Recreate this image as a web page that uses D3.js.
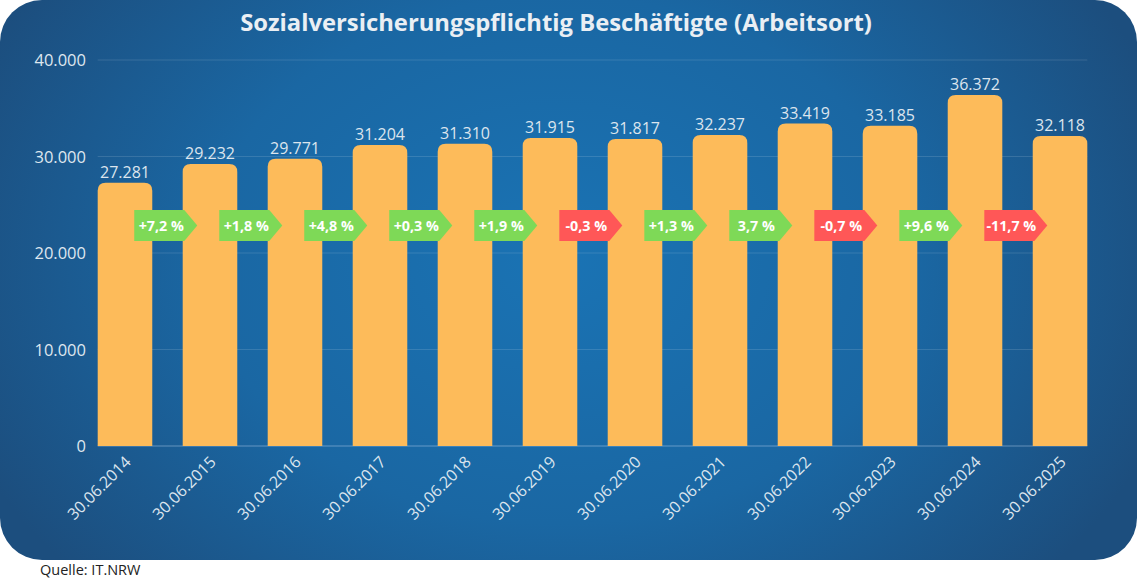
<!DOCTYPE html>
<html>
<head>
<meta charset="utf-8">
<script src="https://cdn.jsdelivr.net/npm/d3@7"></script>
<style>
  body { margin: 0; background: #fff; }
  svg { display: block; }
</style>
</head>
<body>
<script>
const dates = ['30.06.2014', '30.06.2015', '30.06.2016', '30.06.2017', '30.06.2018', '30.06.2019',
    '30.06.2020', '30.06.2021', '30.06.2022', '30.06.2023', '30.06.2024', '30.06.2025']
const employees = [27281, 29232, 29771, 31204, 31310, 31915, 31817, 32237, 33419, 33185, 36372, 32118]
const changes = ['+7,2 %', '+1,8 %', '+4,8 %', '+0,3 %', '+1,9 %', '-0,3 %', '+1,3 %', '3,7 %', '-0,7 %', '+9,6 %', '-11,7 %']
const yTicks = [0, 10000, 20000, 30000, 40000]

const layout = { width: 1139, height: 582, panelW: 1137, panelH: 560 }
const plot = { left: 97.7, right: 1087.3, top: 60, bottom: 446 }

const fmt = d3.formatLocale({ decimal: ',', thousands: '.', grouping: [3], currency: ['', ''] }).format(',')

const svg = d3.select('body')
    .append('svg')
    .attr('width', layout.width)
    .attr('height', layout.height)

const defs = svg.append('defs')
const grad = defs.append('radialGradient')
    .attr('id', 'bg')
    .attr('gradientUnits', 'userSpaceOnUse')
    .attr('cx', 560).attr('cy', 260).attr('r', 640)
    .attr('gradientTransform', 'translate(560,260) scale(1,0.75) translate(-560,-260)')
grad.append('stop').attr('offset', '0%').attr('stop-color', '#1a73b4')
grad.append('stop').attr('offset', '55%').attr('stop-color', '#1a67a3')
grad.append('stop').attr('offset', '100%').attr('stop-color', '#1c4e7e')

svg.append('rect')
    .attr('width', layout.panelW)
    .attr('height', layout.panelH)
    .attr('rx', 42)
    .attr('fill', 'url(#bg)')

svg.append('text')
    .attr('x', 556)
    .attr('y', 31)
    .attr('text-anchor', 'middle')
    .style('font-family', 'Open Sans')
    .style('font-weight', 700)
    .style('font-size', '23.8px')
    .style('fill', '#eaeff4')
    .text('Sozialversicherungspflichtig Beschäftigte (Arbeitsort)')

const x = d3.scaleBand().domain(dates).range([plot.left, plot.right]).paddingInner(0.358).paddingOuter(0)
const y = d3.scaleLinear().domain([0, 40000]).range([plot.bottom, plot.top])

// grid
svg.append('g')
    .selectAll('line')
    .data(yTicks)
    .enter()
    .append('line')
    .attr('x1', plot.left)
    .attr('x2', plot.right)
    .attr('y1', d => y(d))
    .attr('y2', d => y(d))
    .attr('stroke', d => d === 0 ? 'rgba(190,215,240,0.45)' : 'rgba(255,255,255,0.13)')
    .attr('stroke-width', 1)

// y labels
svg.append('g')
    .selectAll('text')
    .data(yTicks)
    .enter()
    .append('text')
    .attr('x', 86)
    .attr('y', d => y(d) + 6)
    .attr('text-anchor', 'end')
    .style('font-family', 'Open Sans')
    .style('font-size', '16.5px')
    .style('fill', '#dfe7ef')
    .text(d => fmt(d))

// bars with rounded tops
const r = 8
const bw = x.bandwidth()
svg.append('g')
    .selectAll('path')
    .data(employees)
    .enter()
    .append('path')
    .attr('d', (d, i) => {
        const x0 = x(dates[i]), x1 = x0 + bw, y0 = y(d), yb = y(0)
        return `M${x0},${yb}V${y0 + r}Q${x0},${y0} ${x0 + r},${y0}H${x1 - r}Q${x1},${y0} ${x1},${y0 + r}V${yb}Z`
    })
    .attr('fill', '#fdbb5a')

// value labels
svg.append('g')
    .selectAll('text')
    .data(employees)
    .enter()
    .append('text')
    .attr('x', (d, i) => x(dates[i]) + bw / 2)
    .attr('y', d => y(d) - 5)
    .attr('text-anchor', 'middle')
    .style('font-family', 'Open Sans')
    .style('font-size', '16px')
    .style('fill', '#dce5ee')
    .text(d => fmt(d))

// change arrows
const arrowTop = 210, arrowH = 31, rectW = 50, tipW = 13
const arrows = svg.append('g')
    .selectAll('g')
    .data(changes)
    .enter()
    .append('g')
    .attr('transform', (d, i) => `translate(${x(dates[i]) + bw - 18},${arrowTop})`)

arrows.append('path')
    .attr('d', `M0,0H${rectW}L${rectW + tipW},${arrowH / 2}L${rectW},${arrowH}H0Z`)
    .attr('fill', d => d.startsWith('-') ? '#ff5757' : '#7ed957')

arrows.append('text')
    .attr('x', 27)
    .attr('y', arrowH / 2 + 5)
    .attr('text-anchor', 'middle')
    .style('font-family', 'Open Sans')
    .style('font-weight', 700)
    .style('font-size', '14.3px')
    .style('fill', '#ffffff')
    .text(d => d)

// x labels
svg.append('g')
    .selectAll('text')
    .data(dates)
    .enter()
    .append('text')
    .attr('transform', d => `translate(${x(d) + bw / 2 + 7},${plot.bottom + 17}) rotate(-45)`)
    .attr('text-anchor', 'end')
    .style('font-family', 'Open Sans')
    .style('font-size', '16px')
    .style('fill', '#dce5ee')
    .text(d => d)

svg.append('text')
    .attr('x', 40)
    .attr('y', 575)
    .style('font-family', 'Open Sans')
    .style('font-size', '14.5px')
    .style('fill', '#222')
    .text('Quelle: IT.NRW')
</script>
</body>
</html>
